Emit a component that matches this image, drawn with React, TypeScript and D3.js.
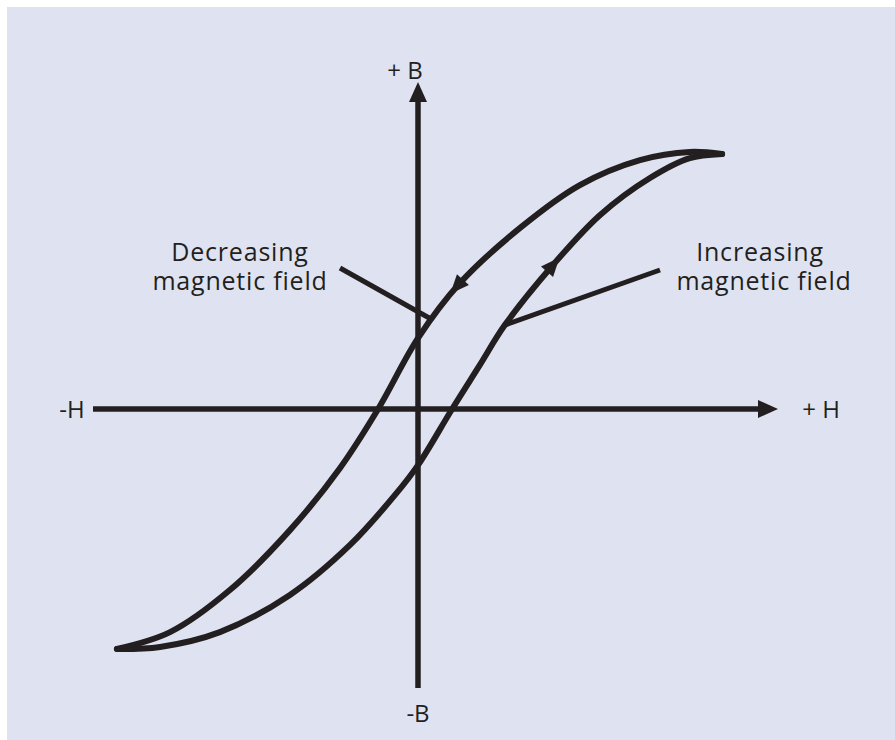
import React, { useEffect, useRef } from "react";
import * as d3 from "d3";

// Hysteresis loop data (H = field, B = flux density), normalised units
const decreasingH = [1.007, 0.9, 0.735, 0.536, 0.338, 0.139, 0.0, -0.132, -0.258, -0.424, -0.623, -0.821, -0.997];
const decreasingB = [1.0, 1.008, 0.976, 0.878, 0.71, 0.494, 0.278, 0.0, -0.231, -0.475, -0.71, -0.875, -0.941];

const increasingH = [-0.997, -0.854, -0.656, -0.424, -0.225, -0.076, 0.0, 0.113, 0.205, 0.288, 0.447, 0.603, 0.768, 0.9, 1.007];
const increasingB = [-0.941, -0.933, -0.875, -0.729, -0.533, -0.337, -0.220, 0.0, 0.173, 0.33, 0.565, 0.761, 0.906, 0.984, 1.0];

// arrow positions (H value) on each branch
const arrowH = { decreasing: 0.129, increasing: 0.447 };

const axisLabels = { posB: "+ B", negB: "-B", posH: "+ H", negH: "-H" };
const decLabel = ["Decreasing", "magnetic field"];
const incLabel = ["Increasing", "magnetic field"];

export default function App() {
  const ref = useRef<SVGSVGElement>(null);

  useEffect(() => {
    const svg = d3.select(ref.current);
    svg.selectAll("*").remove();
    const ink = "#231f20";
    const font = "'Open Sans', sans-serif";

    const x = d3.scaleLinear().domain([-1, 1]).range([116, 720]);
    const y = d3.scaleLinear().domain([-1, 1]).range([664, 154]);

    svg.append("rect").attr("x", 7).attr("y", 7).attr("width", 888).attr("height", 733).attr("fill", "#dfe3f1");

    // axes
    const g = svg.append("g");
    g.append("line").attr("x1", 93).attr("x2", 765).attr("y1", y(0)).attr("y2", y(0))
      .attr("stroke", ink).attr("stroke-width", 5.5);
    g.append("path")
      .attr("d", `M${778},${y(0)} L${758},${y(0) - 9} L${758},${y(0) + 9} Z`).attr("fill", ink);
    g.append("line").attr("x1", x(0)).attr("x2", x(0)).attr("y1", 98).attr("y2", 688)
      .attr("stroke", ink).attr("stroke-width", 5.5);
    g.append("path")
      .attr("d", `M${x(0)},82 L${x(0) - 9},102 L${x(0) + 9},102 Z`).attr("fill", ink);

    const line = d3.line<[number, number]>().x(d => x(d[0])).y(d => y(d[1])).curve(d3.curveCatmullRom.alpha(0.5));
    const dec: [number, number][] = decreasingH.map((h, i) => [h, decreasingB[i]]);
    const inc: [number, number][] = increasingH.map((h, i) => [h, increasingB[i]]);

    const addBranch = (pts: [number, number][], hTarget: number) => {
      const p = g.append("path").attr("d", line(pts)).attr("fill", "none")
        .attr("stroke", ink).attr("stroke-width", 6).attr("stroke-linecap", "round");
      const node = p.node() as SVGPathElement;
      const L = node.getTotalLength();
      const tx = x(hTarget);
      let best = 0, bd = Infinity;
      for (let l = 0; l <= L; l += 0.5) {
        const pt = node.getPointAtLength(l);
        const d = Math.abs(pt.x - tx);
        if (d < bd) { bd = d; best = l; }
      }
      const a = node.getPointAtLength(best);
      const b = node.getPointAtLength(best + 1);
      const ang = Math.atan2(b.y - a.y, b.x - a.x) * 180 / Math.PI;
      g.append("path").attr("d", "M10,0 L-9,-8 L-9,8 Z").attr("fill", ink)
        .attr("transform", `translate(${a.x},${a.y}) rotate(${ang})`);
    };
    addBranch(dec, arrowH.decreasing);
    addBranch(inc, arrowH.increasing);

    // leader lines
    g.append("line").attr("x1", 340).attr("y1", 268).attr("x2", 431).attr("y2", 319)
      .attr("stroke", ink).attr("stroke-width", 5);
    g.append("line").attr("x1", 660).attr("y1", 270).attr("x2", 505).attr("y2", 325)
      .attr("stroke", ink).attr("stroke-width", 5);

    const txt = (s: string, tx: number, ty: number, size = 25, ls = 0.8) =>
      svg.append("text").attr("x", tx).attr("y", ty).attr("text-anchor", "middle")
        .attr("font-family", font).attr("font-size", size).attr("letter-spacing", ls)
        .attr("fill", ink).text(s);

    txt(axisLabels.posB, 405, 79, 24, 0);
    txt(axisLabels.negB, 418, 722, 24, 0);
    txt(axisLabels.negH, 72, 418, 24, 0);
    txt(axisLabels.posH, 821, 418, 24, 0);
    txt(decLabel[0], 240, 261);
    txt(decLabel[1], 240, 290);
    txt(incLabel[0], 760, 261);
    txt(incLabel[1], 764, 290);
  }, []);

  return (
    <svg ref={ref} width={895} height={740} style={{ position: "absolute", left: 0, top: 0, background: "#fff" }} />
  );
}
